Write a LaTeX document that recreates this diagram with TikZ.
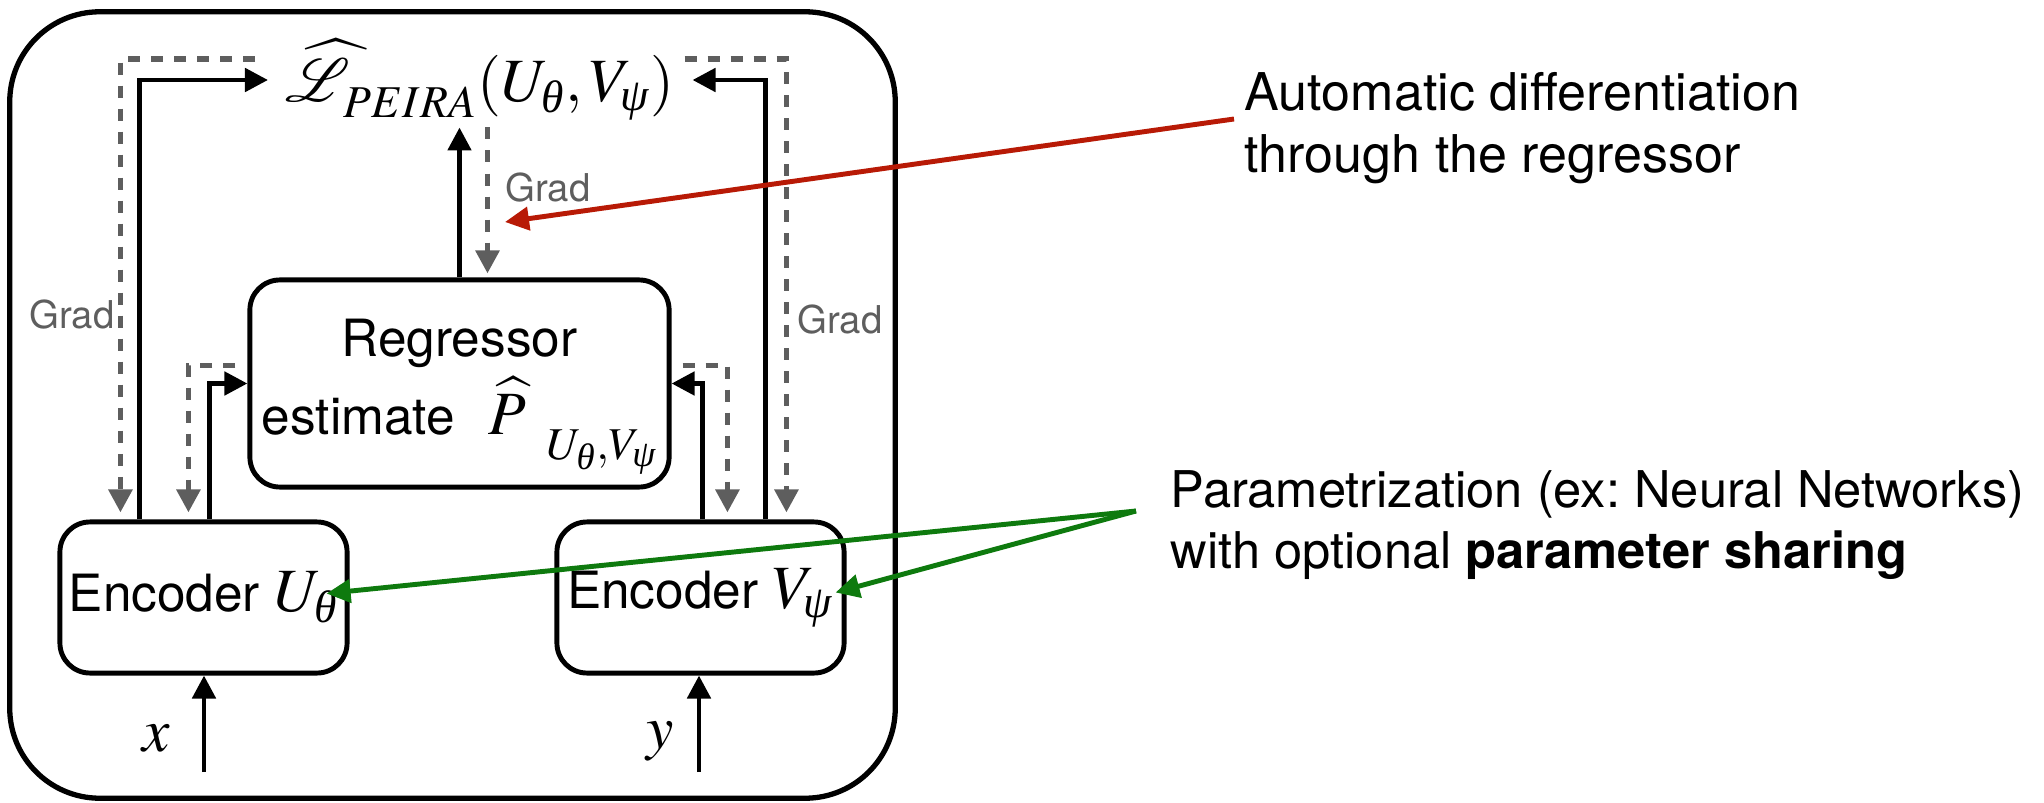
\documentclass[tikz,border=0pt]{standalone}
\usepackage{amsmath}
\usepackage{mathptmx}
\usepackage{mathrsfs}
\usepackage[no-math]{fontspec}
\setmainfont{TeX Gyre Heros}
\newfontfamily\greekit{Liberation Serif}
\frenchspacing
\usetikzlibrary{arrows.meta, calc, positioning}
\definecolor{gradgray}{HTML}{5E5E5E}
\definecolor{autored}{HTML}{B81A06}
\definecolor{paramgreen}{HTML}{0E7A0E}
\newcommand{\mathsz}{\fontsize{17.5}{21}\selectfont}
\newcommand{\gth}{\text{\greekit\itshape θ}}
\newcommand{\gps}{\text{\greekit\itshape ψ}}
\tikzset{
  % boxes of the model (encoders, regressor)
  blk/.style={draw, line width=1.4pt, rounded corners=0.3cm, align=center,
    font=\fontsize{14.6}{18}\selectfont, inner sep=0pt},
  % forward flow and gradient flow
  A/.style={-{Triangle[length=0.23cm,width=0.23cm]}, line width=1.4pt},
  Ag/.style={A, line width=1.6pt, draw=gradgray, dash pattern=on 0.12cm off 0.11cm},
  gradlbl/.style={font=\fontsize{10.9}{13}\selectfont, text=gradgray, inner sep=0pt},
  % side notes and their pointers
  note/.style={font=\fontsize{14.8}{17.6}\selectfont, align=left, inner sep=0pt},
  pointer/.style={-{Triangle[length=0.24cm,width=0.23cm]}, line width=1.4pt, draw=#1},
}
\begin{document}
\begin{tikzpicture}[x=0.01cm, y=-0.01cm]
\useasboundingbox (0,0) rectangle (2044,803);
\fill[white] (0,0) rectangle (2044,803);

% outer frame
\node[draw, line width=1.5pt, rounded corners=0.9cm, minimum width=8.85cm,
      minimum height=7.86cm, inner sep=0pt] (frame) at (452.5,405) {};

% loss on top
\node[font=\mathsz, anchor=west, inner xsep=0.17cm, inner ysep=0pt] (loss) at (268,80)
  {$\widehat{\mathscr{L}}_{\lower2pt\hbox{$\scriptstyle\,PEIRA$}}(U_\gth, V_\gps)$};

% regressor and encoders
\node[blk, minimum width=4.19cm, minimum height=2.07cm] (reg) at (459.5,383.5)
  {\rule{0pt}{18.2pt}Regressor\\[1.5pt]
   estimate\hspace{9.5pt}{\mathsz$\widehat{P}$\hspace{6pt}\raisebox{-7pt}{$\scriptstyle U_\gth,V_\gps$}}};
\node[blk, minimum width=2.87cm, minimum height=1.51cm] (encU) at (203.5,597.5)
  {Encoder {\mathsz$U_\gth$}};
\node[blk, minimum width=2.87cm, minimum height=1.51cm] (encV) at (700.5,597.5)
  {Encoder {\mathsz$V_\gps$}};

% inputs
\node[font=\mathsz] (xlab) at (156,738) {$x$};
\node[font=\mathsz] (ylab) at (660,741) {$y$};
\coordinate (xin) at (204,772);
\coordinate (yin) at (699,772);
\draw[A] (xin) -- (encU.south -| xin);
\draw[A] (yin) -- (encV.south -| yin);

% forward flow
\draw[A] ($(encU.north west)+(82,0)$) |- (loss.west);
\draw[A] ($(encV.north west)+(211,0)$) |- (loss.east);
\draw[A] ($(encU.north west)+(152,0)$) |- (reg.west);
\draw[A] ($(encV.north west)+(148,0)$) |- (reg.east);
\draw[A] (reg.north) -- ($(reg.north)+(0,-150)$);

% gradient flow
\draw[Ag] ($(loss.west)+(-13,-21)$) -| ($(encU.north west)+(63,-7)$);
\draw[Ag] ($(loss.east)+(-8,-21)$) -| ($(encV.north west)+(232,-7)$);
\draw[Ag] ($(reg.west)+(-12,-18)$) -| ($(encU.north west)+(131,-7)$);
\draw[Ag] ($(reg.east)+(11,-18)$) -| ($(encV.north west)+(173,-7)$);
\draw[Ag] ($(reg.north)+(28,-150)$) -- ($(reg.north)+(28,-4)$);
\node[gradlbl] (gradL) at (72,315) {Grad};
\node[gradlbl] (gradR) at (840,320) {Grad};
\node[gradlbl] (gradC) at (548,188) {Grad};

% side notes
\node[note, anchor=north west] (autod) at (1244,72)
  {Automatic differentiation\\through the regressor};
\node[note, font=\fontsize{14.4}{17.4}\selectfont, anchor=north west] (param) at (1170,470)
  {Parametrization (ex: Neural Networks)\\with optional \textbf{parameter sharing}};
\coordinate (autotip) at (505,222);
\draw[pointer=autored] ($(autod.north west)+(-10,47)$) -- (autotip);
\coordinate (pfork) at ($(param.north west)+(-34,41)$);
\draw[pointer=paramgreen] (pfork) -- ($(encU.east)+(-23,-4)$);
\draw[pointer=paramgreen] (pfork) -- ($(encV.east)+(-11,-5)$);
\end{tikzpicture}
\end{document}
